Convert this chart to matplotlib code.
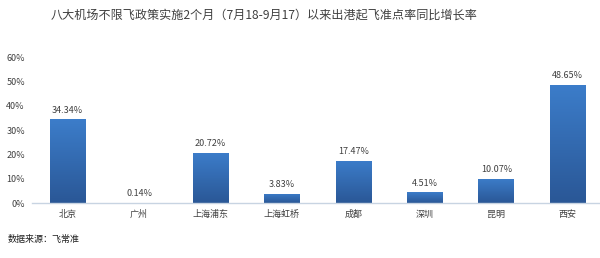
import numpy as np
import matplotlib.pyplot as plt
from matplotlib.colors import LinearSegmentedColormap

plt.rcParams['font.family'] = ['Noto Sans CJK SC', 'DejaVu Sans']

airports = ['北京', '广州', '上海浦东', '上海虹桥', '成都', '深圳', '昆明', '西安']
growth = [34.34, 0.14, 20.72, 3.83, 17.47, 4.51, 10.07, 48.65]
yticks = [0, 10, 20, 30, 40, 50, 60]

fig = plt.figure(figsize=(6, 2.58), dpi=100)
ax = fig.add_axes([0.053, 0.213, 0.947, 0.566])

x = np.arange(len(airports))
bars = ax.bar(x, growth, width=0.5, color='none', edgecolor='none', zorder=2)

# vertical gradient inside each bar
cmap = LinearSegmentedColormap.from_list('bg', ['#2a5796', '#3c7dca'])
grad = np.linspace(0, 1, 256).reshape(-1, 1)
for b in bars:
    x0, y0 = b.get_x(), b.get_y()
    w, h = b.get_width(), b.get_height()
    im = ax.imshow(grad, cmap=cmap, aspect='auto', origin='lower',
                   extent=[x0, x0 + w, y0, y0 + h], zorder=2)
    im.set_clip_path(b)

for xi, v in zip(x, growth):
    ax.text(xi, v + 1.8, f'{v:.2f}%', ha='center', va='bottom',
            fontsize=6.5, color='#404040')

ax.set_xlim(-0.5, 7.45)
ax.set_ylim(0, 60)
ax.set_yticks(yticks)
ax.set_yticklabels([f'{t}%' for t in yticks], fontsize=6.5, color='#404040')
ax.set_xticks(x)
ax.set_xticklabels(airports, fontsize=6.5, color='#404040')
ax.tick_params(length=0, pad=5)
for s in ['top', 'right', 'left']:
    ax.spines[s].set_visible(False)
ax.spines['bottom'].set_color('#c8d4e2')
ax.spines['bottom'].set_linewidth(1)

fig.text(0.44, 0.942, '八大机场不限飞政策实施2个月（7月18-9月17）以来出港起飞准点率同比增长率',
         ha='center', va='center', fontsize=8.7, color='#404040')
fig.text(0.013, 0.07, '数据来源：飞常准', ha='left', va='center',
         fontsize=6.5, color='#202020')

fig.savefig('out.png', dpi=100, facecolor='white')
